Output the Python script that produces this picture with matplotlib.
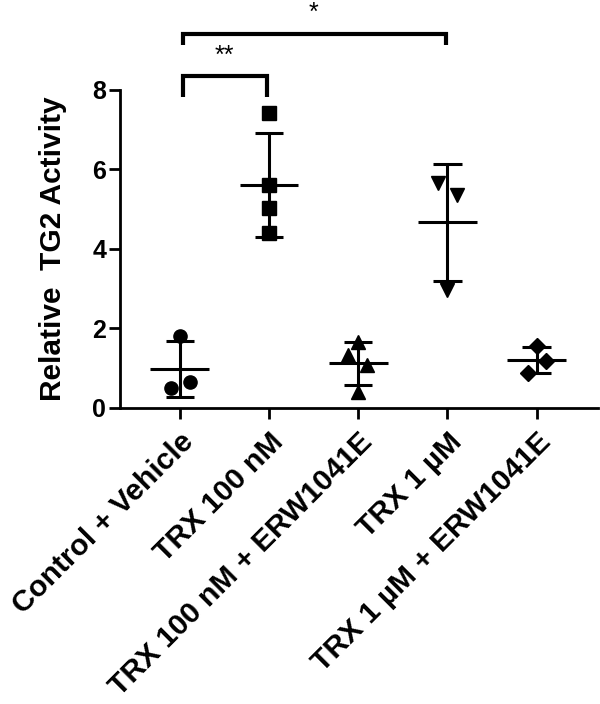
import matplotlib
matplotlib.use('Agg')
import matplotlib.pyplot as plt
import matplotlib.transforms as mtransforms
import numpy as np

plt.rcParams['font.family'] = ['Liberation Sans', 'DejaVu Sans']
plt.rcParams['font.weight'] = 'bold'

groups = ['Control + Vehicle', 'TRX 100 nM', 'TRX 100 nM + ERW1041E',
          'TRX 1 µM', 'TRX 1 µM + ERW1041E']
ctrl = [1.80, 0.50, 0.65]
trx100 = [7.42, 5.60, 5.03, 4.40]
trx100_erw = [1.67, 1.32, 1.08, 0.41]
trx1 = [5.66, 5.37, 2.97]
trx1_erw = [1.56, 1.17, 0.89]
values = [ctrl, trx100, trx100_erw, trx1, trx1_erw]
markers = ['o', 's', '^', 'v', 'D']
# horizontal scatter of points inside each column
jitter = [[0, -0.10, 0.11], [0, 0, 0, 0], [0, -0.11, 0.10, 0],
          [-0.11, 0.11, 0], [0, 0.10, -0.10]]
# significance brackets: (from group, to group, label)
comparisons = [(0, 1, '**'), (0, 3, '*')]

fig = plt.figure(figsize=(6, 7.04), dpi=100)
ax = fig.add_axes([0.2, 0.4205, 0.797, 0.4517])

for i, (v, m, jit) in enumerate(zip(values, markers, jitter)):
    v = np.array(v)
    mean = v.mean()
    sd = v.std(ddof=1)
    ms = 8 if m == 'D' else 9.5
    ax.plot(i + np.array(jit), v, linestyle='none', marker=m, color='black',
            markersize=ms, zorder=3, clip_on=False)
    ax.hlines(mean, i - 0.33, i + 0.33, color='black', lw=2.2, zorder=2)
    ax.vlines(i, mean - sd, mean + sd, color='black', lw=2.2, zorder=2)
    ax.hlines([mean - sd, mean + sd], i - 0.16, i + 0.16, color='black', lw=2.2, zorder=2)

ax.set_xlim(-0.67, 4.69)
ax.set_ylim(0, 8)
ax.set_yticks([0, 2, 4, 6, 8])
ax.set_xticks(range(len(groups)))
ax.set_xticklabels(groups, rotation=45, ha='right', va='top',
                   rotation_mode='anchor', fontsize=21.5, fontweight='bold')
shift = mtransforms.ScaledTranslation(-7 / 100, 0, fig.dpi_scale_trans)
for lab in ax.get_xticklabels():
    lab.set_transform(lab.get_transform() + shift)
ax.tick_params(axis='x', length=8, width=2, pad=6)
ax.tick_params(axis='y', length=8, width=2, labelsize=18, pad=2)
for lab in ax.get_yticklabels():
    lab.set_fontweight('bold')
ax.set_ylabel('Relative  TG2 Activity', fontsize=21.5, fontweight='bold', labelpad=18)

for s in ['top', 'right']:
    ax.spines[s].set_visible(False)
for s in ['left', 'bottom']:
    ax.spines[s].set_linewidth(2)

levels = [(8.34, 7.83), (9.42, 9.12)]
for (a, b, lab), (top, foot) in zip(comparisons, levels):
    xa, xb = a + 0.04, b - 0.02
    ax.plot([xa, xa, xb, xb], [foot, top, top, foot], color='black', lw=3,
            clip_on=False, solid_capstyle='butt', solid_joinstyle='miter')
    ax.text((a + b) / 2, top + 0.52, lab,
            ha='center', va='center', fontsize=18, fontweight='normal')

fig.savefig('out.png', dpi=100)
